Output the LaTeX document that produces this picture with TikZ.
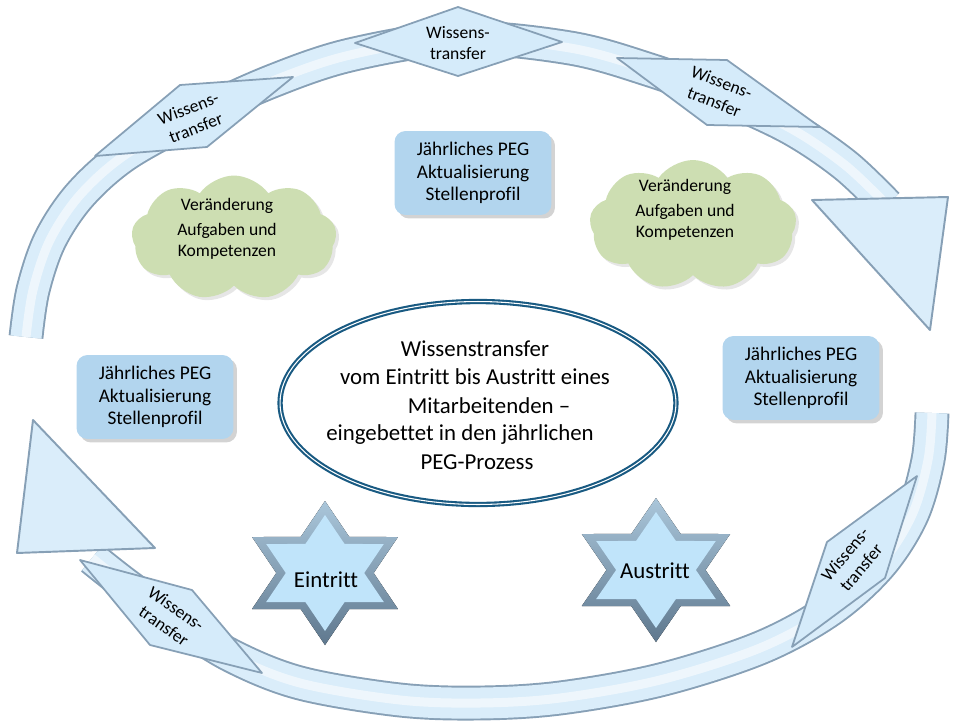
\documentclass[tikz,border=0pt]{standalone}
\usepackage{fontspec}
\setmainfont{Carlito}[Ligatures=NoCommon]
\usetikzlibrary{shapes.geometric,shapes.symbols,shadows}
\definecolor{bandfill}{RGB}{218,237,250}
\definecolor{bandedge}{RGB}{135,160,182}
\definecolor{boxblue}{RGB}{178,213,238}
\definecolor{cloudgreen}{RGB}{205,222,178}
\definecolor{ellblue}{RGB}{25,90,130}
\definecolor{starface}{RGB}{192,228,250}
\definecolor{starlight}{RGB}{170,198,218}
\definecolor{stardark}{RGB}{95,120,142}
\definecolor{diamfill}{RGB}{213,235,250}
\tikzset{
  band/.style={draw=bandedge, line width=1.1pt, double=bandfill, double distance=0.62cm, line join=round},
  bandshine/.style={draw=white, opacity=0.55, line width=0.18cm, line join=round},
  arrhead/.style={draw=bandedge, line width=1.1pt, fill=bandfill, line join=round},
  diam/.style={draw=bandedge, line width=1pt, fill=diamfill, line join=round},
  wt/.style={font=\fontsize{10}{12}\selectfont, align=center, inner sep=0pt},
  pegbox/.style={fill=boxblue, rounded corners=0.22cm, minimum width=3.14cm, minimum height=1.68cm,
    align=center, font=\fontsize{11}{12.8}\selectfont,
    drop shadow={opacity=0.35, shadow xshift=0.07cm, shadow yshift=-0.07cm}},
  cloudshape/.style={cloud, cloud puffs=9, cloud puff arc=110, aspect=1.65, fill=cloudgreen,
    drop shadow={opacity=0.2, shadow xshift=0.06cm, shadow yshift=-0.06cm}},
  ctext/.style={font=\fontsize{10}{12}\selectfont, align=center, inner sep=0pt},
  eltext/.style={font=\fontsize{13}{15}\selectfont, inner sep=0pt, anchor=base},
  startext/.style={font=\fontsize{13}{15}\selectfont, inner sep=0pt, anchor=base},
  hexstar/.pic={
    \fill[top color=starlight, bottom color=stardark]
      (90:72) -- (60:41.6) -- (30:72) -- (0:41.6) -- (-30:72) -- (-60:41.6) --
      (-90:72) -- (-120:41.6) -- (-150:72) -- (180:41.6) -- (150:72) -- (120:41.6) -- cycle;
    \fill[starface]
      (90:58) -- (60:33.5) -- (30:58) -- (0:33.5) -- (-30:58) -- (-60:33.5) --
      (-90:58) -- (-120:33.5) -- (-150:58) -- (180:33.5) -- (150:58) -- (120:33.5) -- cycle;
  }
}
\begin{document}
\begin{tikzpicture}[x=0.02cm,y=-0.02cm]
\useasboundingbox (0,0) rectangle (958,724);

% upper arrow (band B)
\draw[band] plot[smooth, tension=0.55] coordinates {(26,337) (33,290) (50,240) (80,195) (125,155) (194,117) (270,82) (350,55) (458,38) (570,48) (650,70) (718,95) (790,128) (845,165) (887,205)};
\draw[bandshine] plot[smooth, tension=0.55] coordinates {(26,337) (33,290) (50,240) (80,195) (125,155) (194,117) (270,82) (350,55) (458,38) (570,48) (650,70) (718,95) (790,128) (845,165) (887,205)};
\draw[arrhead] (812,200) -- (948,197) -- (930,330) -- cycle;

% lower arrow (band A)
\draw[band] plot[smooth, tension=0.55] coordinates {(932,413) (928,460) (912,515) (880,565) (830,610) (760,648) (660,680) (560,698) (480,703) (400,700) (300,683) (230,655) (171,617) (125,584) (92,558)};
\draw[bandshine] plot[smooth, tension=0.55] coordinates {(932,413) (928,460) (912,515) (880,565) (830,610) (760,648) (660,680) (560,698) (480,703) (400,700) (300,683) (230,655) (171,617) (125,584) (92,558)};
\draw[arrhead] (33,420) -- (17,553) -- (155,548) -- cycle;

% diamonds "Wissenstransfer"
\draw[diam] (355,43) -- (458,7) -- (562,42) -- (458,76) -- cycle;
\node[wt] (wtTop) at (458,43) {Wissens-\\transfer};
\draw[diam] (617,58) -- (727,60) -- (820,127) -- (707,125) -- cycle;
\node[wt, rotate=-21] (wtRight) at (718,92) {Wissens-\\transfer};
\draw[diam] (95,156) -- (180,85) -- (293,77) -- (207,147) -- cycle;
\node[wt, rotate=21] (wtLeft) at (192,118) {Wissens-\\transfer};
\draw[diam] (80,560) -- (192,590) -- (262,673) -- (150,645) -- cycle;
\node[wt, rotate=-35] (wtBL) at (170,617) {Wissens-\\transfer};
\draw[diam] (917,476) -- (827,542) -- (792,647) -- (885,578) -- cycle;
\node[wt, rotate=50] (wtBR) at (853,561) {Wissens-\\transfer};

% PEG boxes
\node[pegbox] (pegTop) at (473,173) {Jährliches PEG\\Aktualisierung\\Stellenprofil};
\node[pegbox] (pegLeft) at (155,397) {Jährliches PEG\\Aktualisierung\\Stellenprofil};
\node[pegbox] (pegRight) at (801,378) {Jährliches PEG\\Aktualisierung\\Stellenprofil};

% clouds
\node[cloudshape, minimum width=4.1cm, minimum height=2.5cm] (cloudL) at (234,238) {};
\node[ctext] (cloudLtext) at (227,229) {Veränderung\\[2pt]Aufgaben und\\Kompetenzen};
\node[cloudshape, minimum width=4.14cm, minimum height=2.6cm] (cloudR) at (693,225) {};
\node[ctext] (cloudRtext) at (685,210) {Veränderung\\[2pt]Aufgaben und\\Kompetenzen};

% central ellipse
\node[ellipse, draw=ellblue, line width=1.2pt, double=white, double distance=0.6pt,
      minimum width=7.92cm, minimum height=4.06cm, fill=white] (center) at (478,403) {};
\node[eltext] (c1) at (475,356) {Wissenstransfer};
\node[eltext] (c2) at (475,384) {vom Eintritt bis Austritt eines};
\node[eltext] (c3) at (489,413) {Mitarbeitenden –};
\node[eltext] (c4) at (460,440) {eingebettet in den jährlichen};
\node[eltext] (c5) at (477,469) {PEG-Prozess};

% stars
\pic[xscale=1.17] at (325,573) {hexstar};
\node[startext] (eintritt) at (326,587) {Eintritt};
\pic[xscale=1.19] at (656,570) {hexstar};
\node[startext] (austritt) at (655,578) {Austritt};
\end{tikzpicture}
\end{document}
